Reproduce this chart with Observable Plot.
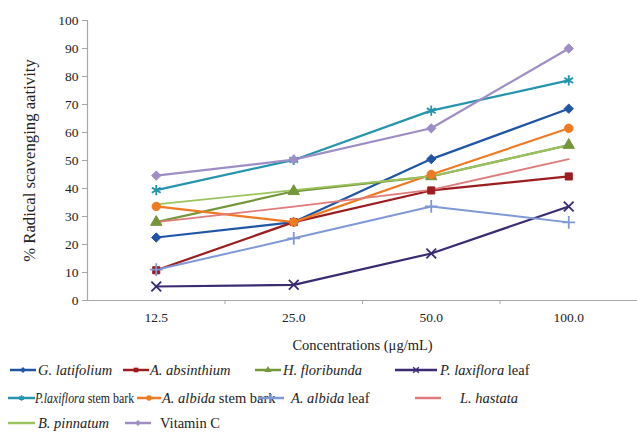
<!DOCTYPE html>
<html>
<head>
<meta charset="utf-8">
<script src="https://cdn.jsdelivr.net/npm/d3@7"></script>
<script src="https://cdn.jsdelivr.net/npm/@observablehq/plot@0.6"></script>
<style>
  body { margin: 0; background: #fff; }
  #chart svg { display: block; }
  #legend { position: relative; width: 637px; height: 80px; color: #222; }
  .item { position: absolute; white-space: nowrap; }
  .item svg { position: absolute; }
  .item span { position: absolute; top: 0; line-height: 18px; }
</style>
</head>
<body style="font-family:'Liberation Serif', serif">
<div id="chart" style="font-family:'Liberation Serif', serif"></div>
<div id="legend" style="font-family:'Liberation Serif', serif; font-size:14.5px"></div>
<script>
const concentrations = ["12.5", "25.0", "50.0", "100.0"];
const yTicks = [0, 10, 20, 30, 40, 50, 60, 70, 80, 90, 100];

const gLatifolium = [22.5, 28, 50.5, 68.5];
const aAbsinthium = [10.8, 28, 39.3, 44.3];
const hFloribunda = [28, 39, 44.3, 55.5];
const pLaxifloraLeaf = [5, 5.6, 16.8, 33.6];
const pLaxifloraStemBark = [39.4, 50.2, 67.8, 78.6];
const aAlbidaStemBark = [33.6, 28, 45, 61.5];
const aAlbidaLeaf = [11, 22.2, 33.6, 27.9];
const lHastata = [28, 33.5, 39.5, 50.5];
const bPinnatum = [34.3, 39.4, 44.3, 55.5];
const vitaminC = [44.6, 50.3, 61.5, 90];

const seriesNames = ["G. latifolium", "A. absinthium", "H. floribunda", "P. laxiflora leaf",
  "P.laxiflora stem bark", "A. albida stem bark", "A. albida leaf", "L. hastata", "B. pinnatum", "Vitamin C"];
const seriesValues = [gLatifolium, aAbsinthium, hFloribunda, pLaxifloraLeaf, pLaxifloraStemBark,
  aAlbidaStemBark, aAlbidaLeaf, lHastata, bPinnatum, vitaminC];

const styles = [
  {color: "#1f55a5", symbol: "diamond2", fill: true, r: 4.2, w: 2.2},
  {color: "#9c1c20", symbol: "square", fill: true, r: 4, w: 2.2},
  {color: "#76963a", symbol: "triangle", fill: true, r: 4.2, w: 2.2},
  {color: "#3a2b72", symbol: "times", fill: false, r: 4.5, w: 2.2},
  {color: "#2495ac", symbol: "asterisk", fill: false, r: 4.8, w: 2.2},
  {color: "#f07a22", symbol: "circle", fill: true, r: 4.2, w: 2.2},
  {color: "#7f98d6", symbol: "plus", fill: false, r: 4.2, w: 2},
  {color: "#e07b7b", symbol: null, w: 1.8},
  {color: "#9cc45e", symbol: null, w: 1.8},
  {color: "#9f8ec6", symbol: "diamond2", fill: true, r: 4.2, w: 2.2}
];

const rows = [];
seriesNames.forEach((name, s) => {
  seriesValues[s].forEach((v, i) => rows.push({series: name, s, i, value: v}));
});

const marks = [];
marks.push(Plot.ruleY([0], {stroke: "#a8a8a8", strokeWidth: 1.2}));
marks.push(Plot.ruleX([-0.5], {stroke: "#a8a8a8", strokeWidth: 1.2}));
seriesNames.forEach((name, s) => {
  const st = styles[s];
  const d = rows.filter(r => r.s === s);
  marks.push(Plot.line(d, {x: "i", y: "value", stroke: st.color, strokeWidth: st.w}));
});
seriesNames.forEach((name, s) => {
  const st = styles[s];
  if (!st.symbol) return;
  const d = rows.filter(r => r.s === s);
  if (st.fill) {
    marks.push(Plot.dot(d, {x: "i", y: "value", symbol: () => st.symbol, r: st.r, fill: st.color, stroke: st.color, strokeWidth: 1}));
  } else {
    marks.push(Plot.dot(d, {x: "i", y: "value", symbol: () => st.symbol, r: st.r, stroke: st.color, strokeWidth: 1.8, fill: "none"}));
  }
});

const chart = Plot.plot({
  width: 637,
  height: 355,
  marginTop: 20,
  marginBottom: 55,
  marginLeft: 87,
  marginRight: 0,
  style: {fontFamily: "'Liberation Serif', serif", fontSize: "13.5px", color: "#222", background: "#fff"},
  x: {type: "linear", domain: [-0.5, 3.5]},
  y: {domain: [0, 100]},
  symbol: {type: "identity"},
  marks: [
    Plot.axisY({ticks: yTicks, tickSize: 5, tickPadding: 4, stroke: "#a8a8a8", label: "% Radical scavenging aativity",
      labelAnchor: "center", labelArrow: "none", labelOffset: 64}),
    Plot.axisX({ticks: [0, 1, 2, 3], tickSize: 0, tickPadding: 12, tickFormat: i => concentrations[i],
      label: "Concentrations (μg/mL)", labelAnchor: "center", labelArrow: "none", labelOffset: 49}),
    Plot.axisX({ticks: [0.5, 1.5, 2.5], tickSize: 4, stroke: "#a8a8a8", tickFormat: () => "", label: null}),
    ...marks
  ]
});
document.getElementById("chart").appendChild(chart);
const svgSel = d3.select(chart);
svgSel.attr("font-family", "Liberation Serif").style("font-family", "'Liberation Serif', serif");
svgSel.selectAll("text").attr("font-family", "Liberation Serif").style("font-family", "'Liberation Serif', serif");
svgSel.selectAll('g[aria-label="y-axis label"] text').style("font-size", "16.7px");
svgSel.selectAll('g[aria-label="x-axis label"] text').style("font-size", "14.5px");

const legendPos = [
  {x: 10, y: 6, lw: 26, tx: 38},
  {x: 123, y: 6, lw: 26, tx: 150},
  {x: 255, y: 6, lw: 26, tx: 283},
  {x: 395, y: 6, lw: 42, tx: 440},
  {x: 8, y: 34, lw: 27, tx: 35},
  {x: 137, y: 34, lw: 24, tx: 162},
  {x: 258, y: 34, lw: 26, tx: 291},
  {x: 415, y: 34, lw: 26, tx: 460},
  {x: 8, y: 59, lw: 27, tx: 38},
  {x: 125, y: 59, lw: 26, tx: 160}
];
const legend = d3.select("#legend");
const symMap = {diamond2: d3.symbolDiamond2, square: d3.symbolSquare, triangle: d3.symbolTriangle,
  times: d3.symbolTimes, asterisk: d3.symbolAsterisk, circle: d3.symbolCircle, plus: d3.symbolPlus};
seriesNames.forEach((name, s) => {
  const p = legendPos[s], st = styles[s];
  const item = legend.append("div").attr("class", "item").style("left", "0px").style("top", p.y + "px");
  const svg = item.append("svg").attr("width", p.lw).attr("height", 18)
    .style("left", p.x + "px").style("top", "0px");
  svg.append("line").attr("x1", 0).attr("x2", p.lw).attr("y1", 9).attr("y2", 9)
    .attr("stroke", st.color).attr("stroke-width", 2.5);
  if (st.symbol) {
    const path = d3.symbol(symMap[st.symbol], 22)();
    const g = svg.append("path").attr("d", path).attr("transform", `translate(${p.lw / 2},9)`);
    if (st.fill) g.attr("fill", st.color);
    else g.attr("fill", "none").attr("stroke", st.color).attr("stroke-width", 1.5);
  }
  const span = item.append("span").style("left", p.tx + "px")
    .style("font-family", "'Liberation Serif', serif").style("font-size", "14.5px");
  if (name === "Vitamin C") {
    span.text(name);
  } else if (name === "P.laxiflora stem bark") {
    span.style("display", "inline-block").style("transform-origin", "0 0")
      .style("transform", "scaleX(0.82)");
    span.html("<i>P.laxiflora</i> stem bark");
  } else {
    const words = name.split(" ");
    const italic = words.slice(0, 2).join(" ");
    const rest = words.slice(2).join(" ");
    span.html(`<i>${italic}</i>${rest ? " " + rest : ""}`);
  }
});
</script>
</body>
</html>
